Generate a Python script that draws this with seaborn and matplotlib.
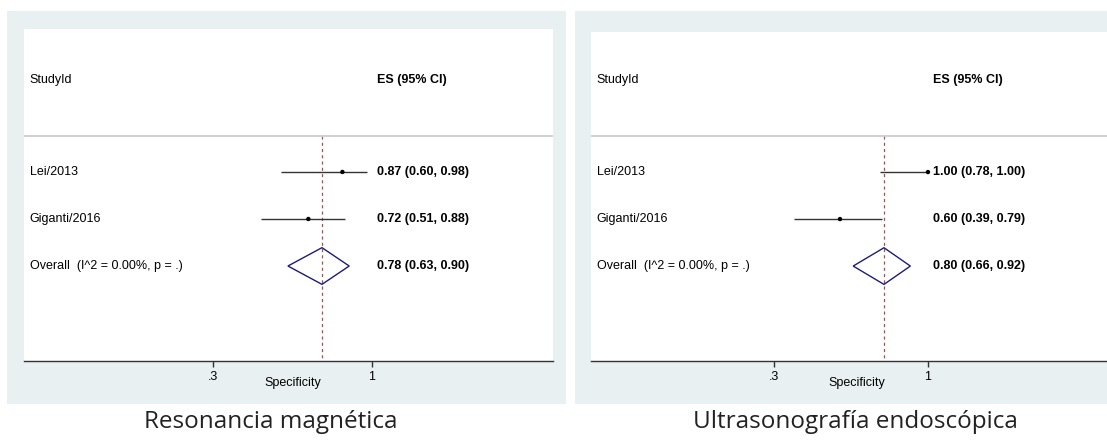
import seaborn as sns
import matplotlib.pyplot as plt
from matplotlib.patches import Rectangle, Polygon

sns.set_theme(style="white")
plt.rcParams['font.family'] = ['Liberation Sans', 'DejaVu Sans']

# data
studies = ['Lei/2013', 'Giganti/2016']
overall_label = 'Overall  (I^2 = 0.00%, p = .)'

mri_es = [0.87, 0.72]
mri_lo = [0.60, 0.51]
mri_hi = [0.98, 0.88]
mri_pool = [0.78, 0.63, 0.90]   # es, lo, hi

eus_es = [1.00, 0.60]
eus_lo = [0.78, 0.39]
eus_hi = [1.00, 0.79]
eus_pool = [0.80, 0.66, 0.92]

tick_vals = [0.3, 1]
tick_labels = ['.3', '1']
xlabel = 'Specificity'
captions = ['Resonancia magnética', 'Ultrasonografía endoscópica']

W, H = 1107, 441
fig = plt.figure(figsize=(W / 100, H / 100), dpi=100)
fig.patch.set_facecolor('white')
bg_color = '#e8f0f2'


def px_rect(x0, y0, x1, y1):
    return [x0 / W, 1 - y1 / H, (x1 - x0) / W, (y1 - y0) / H]


# grey-blue graph regions behind each panel
for x0, x1 in [(7, 566), (575, 1107)]:
    fig.patches.append(Rectangle((x0 / W, 1 - 404 / H), (x1 - x0) / W, (404 - 11) / H,
                                 transform=fig.transFigure, facecolor=bg_color,
                                 edgecolor='none', zorder=-5))

panels = [
    dict(rect=px_rect(24, 29, 553, 361), xlim=(-0.533, 1.798), ytop=-3.04,
         es=mri_es, lo=mri_lo, hi=mri_hi, pool=mri_pool, labx=0.508, capx=271),
    dict(rect=px_rect(591, 32, 1107, 361), xlim=(-0.532, 1.814), ytop=-2.98,
         es=eus_es, lo=eus_lo, hi=eus_hi, pool=eus_pool, labx=0.516, capx=855),
]

sep_y = -0.77
head_y = -1.96
bottom_y = 4.02
es_col = 1.022
fs = 9
tc = 'black'

for p, cap in zip(panels, captions):
    ax = fig.add_axes(p['rect'])
    ax.set_zorder(1)
    ax.set_facecolor('white')
    rows = list(range(len(studies)))
    over_row = len(studies)

    # confidence intervals and point estimates
    ax.hlines(rows, p['lo'], p['hi'], color='#333333', lw=1.0, zorder=2)
    sns.scatterplot(x=p['es'], y=rows, color='black', s=10, edgecolor='none',
                    legend=False, ax=ax, zorder=3)

    # pooled diamond
    es, lo, hi = p['pool']
    dh = 0.39
    ax.add_patch(Polygon([(lo, over_row), (es, over_row - dh), (hi, over_row), (es, over_row + dh)],
                         closed=True, fill=False, edgecolor='#1c1c7a', lw=1, zorder=3))
    ax.vlines(es, sep_y, bottom_y, colors='#a8504f', linestyles=(0, (2.5, 2.5)), lw=0.9, zorder=1)
    ax.axhline(sep_y, color='#c8c8c8', lw=1.2, zorder=1)

    # text columns
    yt = ax.get_yaxis_transform()
    ax.text(0.011, head_y, 'StudyId', transform=yt, fontsize=fs, va='center', ha='left', color=tc)
    ax.text(es_col, head_y, 'ES (95% CI)', fontsize=fs, va='center', ha='left',
            fontweight='bold', color=tc)
    for r, name, e, l, h in zip(rows, studies, p['es'], p['lo'], p['hi']):
        ax.text(0.011, r, name, transform=yt, fontsize=fs, va='center', ha='left', color=tc)
        ax.text(es_col, r, f'{e:.2f} ({l:.2f}, {h:.2f})', fontsize=fs, va='center',
                ha='left', fontweight='bold', color=tc)
    ax.text(0.011, over_row, overall_label, transform=yt, fontsize=fs, va='center',
            ha='left', color=tc)
    ax.text(es_col, over_row, f'{es:.2f} ({lo:.2f}, {hi:.2f})', fontsize=fs, va='center',
            ha='left', fontweight='bold', color=tc)

    ax.set_xlim(*p['xlim'])
    ax.set_ylim(bottom_y, p['ytop'])
    ax.set_yticks([])
    ax.set_xticks(tick_vals, tick_labels)
    ax.tick_params(axis='x', direction='out', length=4, width=1, color='#333333',
                   labelsize=fs, labelcolor=tc, pad=3, bottom=True)
    for s in ['top', 'left', 'right']:
        ax.spines[s].set_visible(False)
    ax.spines['bottom'].set_color('#333333')
    ax.spines['bottom'].set_linewidth(1)
    ax.set_xlabel(xlabel, fontsize=fs, color=tc)
    ax.xaxis.set_label_coords(p['labx'], -22 / 332)
    ax.xaxis.label.set_va('center')

    fig.text(p['capx'] / W, 1 - 422 / H, cap, fontsize=17.5, family=['Open Sans', 'DejaVu Sans'],
             ha='center', va='center', color='#222222')

fig.savefig('out.png', dpi=100)
